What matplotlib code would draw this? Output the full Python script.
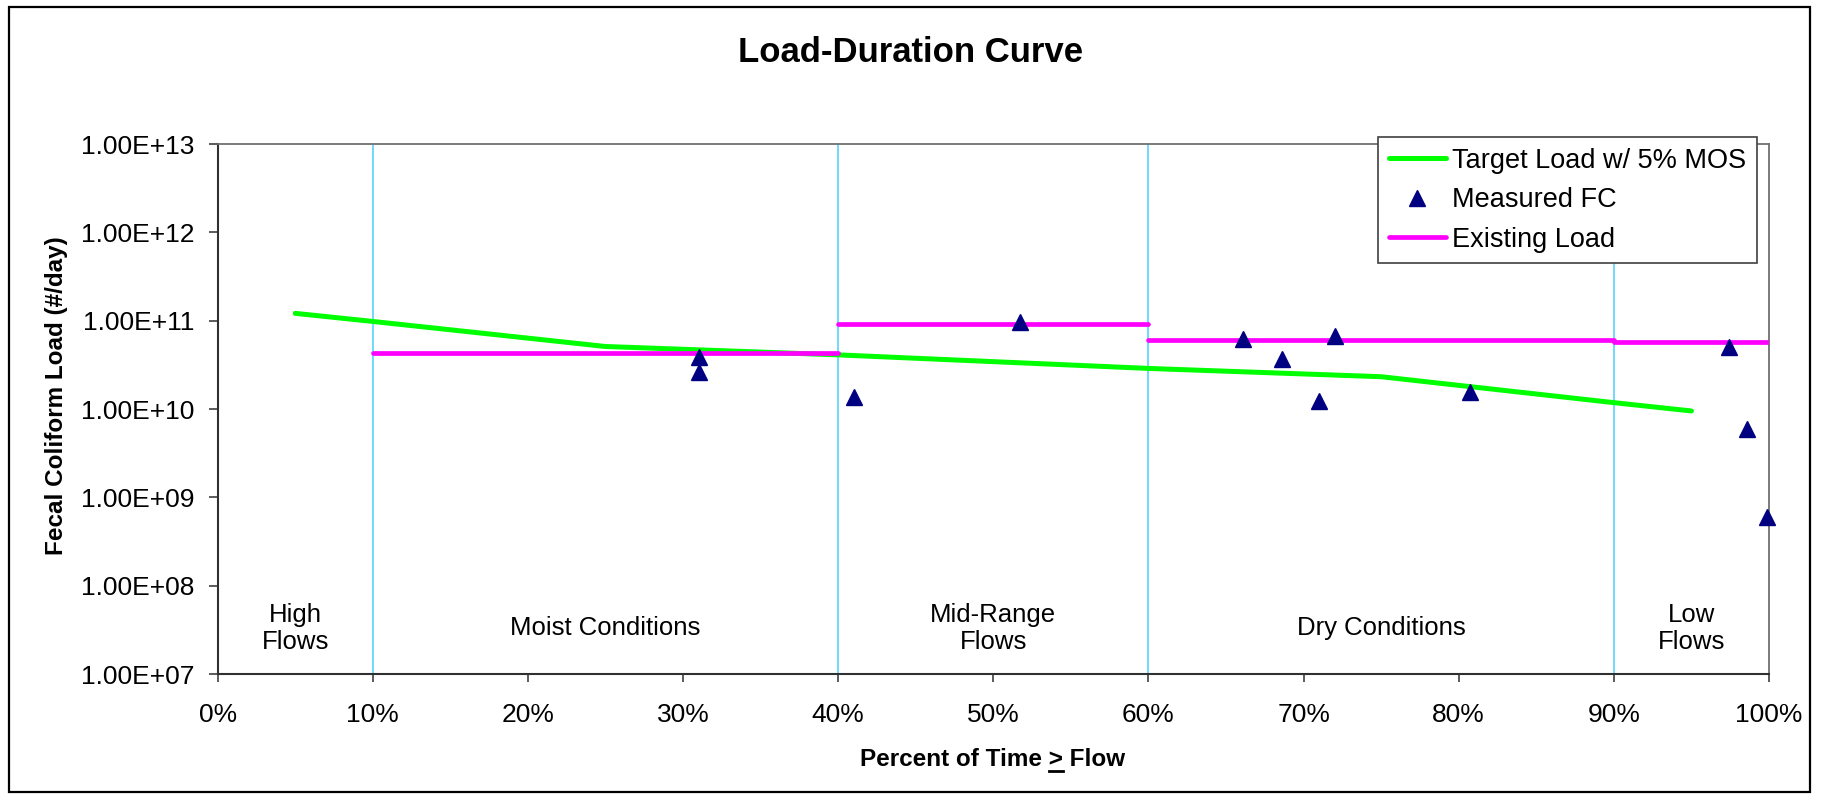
import matplotlib
matplotlib.use("Agg")
import matplotlib.pyplot as plt
from matplotlib.ticker import FixedLocator, FuncFormatter, NullLocator
from matplotlib.patches import Rectangle
from matplotlib.lines import Line2D
from matplotlib.transforms import blended_transform_factory

plt.rcParams['font.family'] = ['Liberation Sans', 'DejaVu Sans']

# ---------------- data ----------------
target_x = [5, 10, 25, 40, 60, 75, 90, 95]
target_y = [1.21e11, 9.8e10, 5.1e10, 4.1e10, 2.88e10, 2.32e10, 1.18e10, 9.5e9]

measured_x = [31.0, 31.0, 41.0, 51.7, 66.1, 68.6, 71.0, 72.0, 80.7, 97.4, 98.6, 99.9]
measured_y = [3.9e10, 2.6e10, 1.37e10, 9.7e10, 6.2e10, 3.68e10, 1.24e10, 6.7e10,
              1.57e10, 5.0e10, 6.0e9, 6.0e8]

existing_start = [10, 40, 60, 90]
existing_end = [40, 60, 90, 100]
existing_val = [4.3e10, 9.1e10, 6.1e10, 5.7e10]

zone_bounds = [10, 40, 60, 90]
zone_centers = [5, 25, 50, 75, 95]
zone_labels = ["High\nFlows", "Moist Conditions", "Mid-Range\nFlows", "Dry Conditions", "Low\nFlows"]

x_ticks = [0, 10, 20, 30, 40, 50, 60, 70, 80, 90, 100]
y_ticks = [1e7, 1e8, 1e9, 1e10, 1e11, 1e12, 1e13]

title = "Load-Duration Curve"
xlabel = "Percent of Time > Flow"
ylabel = "Fecal Coliform Load (#/day)"
series_names = ["Target Load w/ 5% MOS", "Measured FC", "Existing Load"]

# ---------------- figure ----------------
W, H = 1821, 799
fig = plt.figure(figsize=(W / 100, H / 100), dpi=100)
fig.patch.set_facecolor('white')
ax = fig.add_axes([217.7 / W, 1 - 674 / H, (1769 - 217.7) / W, (674 - 144) / H])

# outer chart border
fig.patches.append(Rectangle((9 / W, 7 / H), (1810 - 9) / W, (792 - 7) / H,
                             transform=fig.transFigure, fill=False,
                             edgecolor='black', linewidth=1.6))

ax.set_yscale('log')
ax.set_xlim(0, 100)
ax.set_ylim(1e7, 1e13)

for xb in zone_bounds:
    ax.axvline(xb, color='#70D8FF', linewidth=1.4, zorder=1)

ax.plot(target_x, target_y, color='#00FF00', linewidth=3.6,
        solid_capstyle='round', zorder=3)
for xs, xe, v in zip(existing_start, existing_end, existing_val):
    ax.plot([xs, xe], [v, v], color='#FF00FF', linewidth=3.4,
            solid_capstyle='round', zorder=3)
ax.plot(measured_x, measured_y, linestyle='none', marker='^', markersize=11,
        color='#000080', markeredgecolor='#000080', zorder=4, clip_on=False)

# zone labels
tr = blended_transform_factory(ax.transData, ax.transAxes)
for xc, lab in zip(zone_centers, zone_labels):
    ax.text(xc, 0.086, lab, transform=tr, ha='center', va='center',
            fontsize=18.5, linespacing=1.15, color='black')

# ticks
ax.xaxis.set_major_locator(FixedLocator(x_ticks))
ax.xaxis.set_major_formatter(FuncFormatter(lambda v, p: f"{int(round(v))}%"))
ax.yaxis.set_major_locator(FixedLocator(y_ticks))
ax.yaxis.set_major_formatter(FuncFormatter(lambda v, p: f"{v:.2E}"))
ax.yaxis.set_minor_locator(NullLocator())
ax.xaxis.set_minor_locator(NullLocator())
ax.tick_params(axis='x', direction='out', length=6, width=1.2, pad=15,
               labelsize=19, color='#404040')
ax.tick_params(axis='y', direction='out', length=6.5, width=1.2, pad=10,
               labelsize=19, color='#404040')

for s in ['left', 'bottom']:
    ax.spines[s].set_color('#303030')
    ax.spines[s].set_linewidth(1.5)
for s in ['top', 'right']:
    ax.spines[s].set_color('#707070')
    ax.spines[s].set_linewidth(1.3)

# legend
handles = [Line2D([], [], color='#00FF00', linewidth=3.6, solid_capstyle='round'),
           Line2D([], [], linestyle='none', marker='^', markersize=11,
                  color='#000080'),
           Line2D([], [], color='#FF00FF', linewidth=3.4, solid_capstyle='round')]
leg = ax.legend(handles, series_names, loc='upper left',
                bbox_to_anchor=(1378 / W, 1 - 136.7 / H),
                bbox_transform=fig.transFigure, borderaxespad=0,
                fontsize=19.5, handlelength=2.1, handletextpad=0.25,
                labelspacing=0.5, borderpad=0.4, numpoints=1,
                fancybox=False, framealpha=1, edgecolor='#404040')
leg.get_frame().set_linewidth(1.2)
leg.set_zorder(10)

# title and axis labels
fig.text(0.5, 1 - 53 / H, title, ha='center', va='center',
         fontsize=25, fontweight='bold')
fig.text(56.7 / W, 1 - 396 / H, ylabel, ha='center', va='center',
         rotation=90, fontsize=17.5, fontweight='bold')
xl_x = 993 / W
xl_y = 1 - 760 / H
xl = fig.text(xl_x, xl_y, xlabel, ha='center', va='center',
              fontsize=17.5, fontweight='bold')

# underline the ">" in the x label
fig.canvas.draw()
r = fig.canvas.get_renderer()
full_bb = xl.get_window_extent(r)
idx = xlabel.index(">")
t1 = fig.text(0, 0, xlabel[:idx + 1], fontsize=17.5, fontweight='bold')
t2 = fig.text(0, 0, ">", fontsize=17.5, fontweight='bold')
w1 = t1.get_window_extent(r).width
w2 = t2.get_window_extent(r).width
t1.remove()
t2.remove()
x_end = full_bb.x0 + w1
x_start = x_end - w2
uy = 1 - 771 / H
fig.add_artist(Line2D([x_start / W, x_end / W], [uy, uy], transform=fig.transFigure,
                      color='black', linewidth=2))

fig.savefig("out.png", dpi=100, facecolor='white')
